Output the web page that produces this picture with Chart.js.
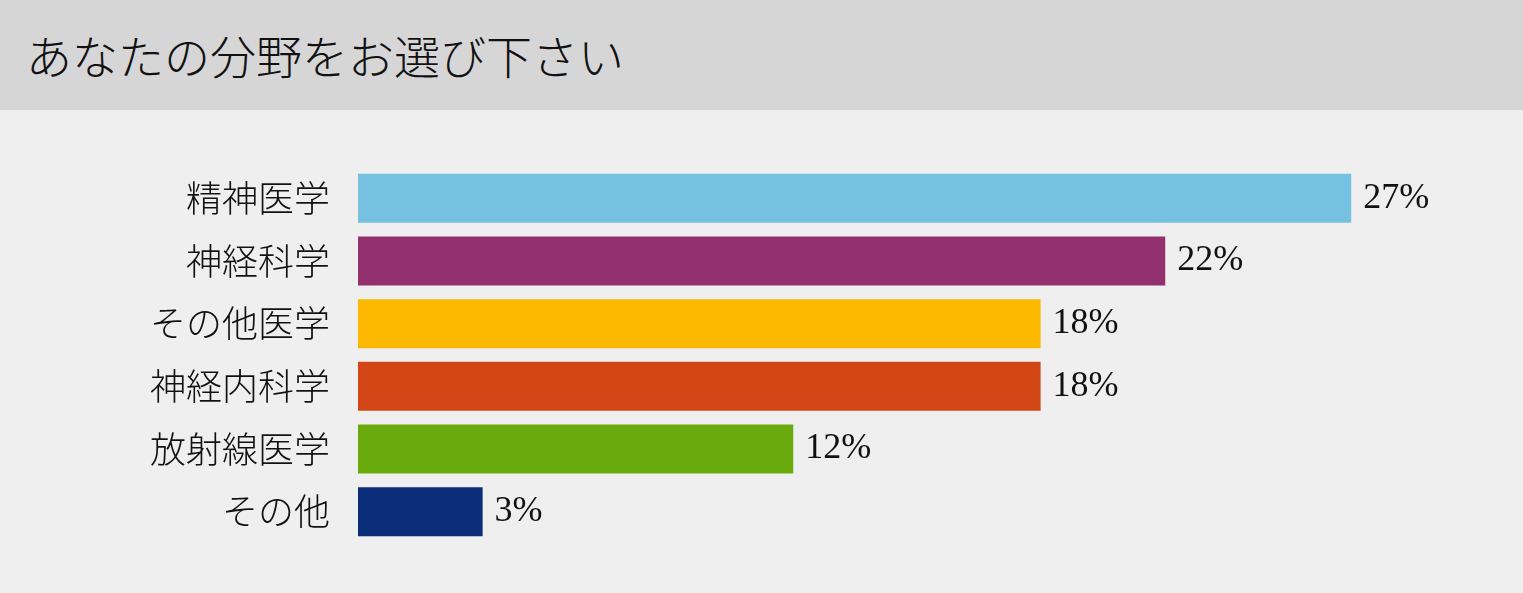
<!DOCTYPE html>
<html>
<head>
<meta charset="utf-8">
<script src="https://cdn.jsdelivr.net/npm/chart.js@4"></script>
<style>
  html, body { margin: 0; padding: 0; }
  body { width: 1523px; height: 593px; background: #efefef; overflow: hidden; }
  #head {
    height: 110px;
    background: #d6d6d6;
    font-family: "Noto Sans CJK JP", sans-serif;
    font-weight: 300;
    font-size: 46px;
    line-height: 108px;
    padding-left: 26px;
    color: #111;
  }
  #wrap { width: 1523px; height: 483px; }
</style>
</head>
<body>
<div id="head">あなたの分野をお選び下さい</div>
<div id="wrap"><canvas id="myChart"></canvas></div>
<script>
const fields = ["精神医学", "神経科学", "その他医学", "神経内科学", "放射線医学", "その他"];
const shares = [26.7, 21.7, 18.35, 18.35, 11.7, 3.35];
const shareLabels = ["27%", "22%", "18%", "18%", "12%", "3%"];
const barColors = ["#76c0e0", "#93316f", "#fdb900", "#d34616", "#69aa0c", "#0c2e7a"];

const valueLabels = {
  id: "valueLabels",
  afterDatasetsDraw(chart) {
    const c = chart.ctx;
    const meta = chart.getDatasetMeta(0);
    c.save();
    c.font = '36px "Liberation Serif", "Noto Sans CJK JP", serif';
    c.fillStyle = "#111";
    c.textBaseline = "middle";
    c.textAlign = "left";
    meta.data.forEach((bar, i) => {
      c.fillText(shareLabels[i], bar.x + 12, bar.y);
    });
    c.restore();
  },
};

const ctx = document.getElementById("myChart").getContext("2d");
const myChart = new Chart(ctx, {
  type: "bar",
  data: {
    labels: fields,
    datasets: [
      {
        data: shares,
        backgroundColor: barColors,
        borderWidth: 0,
        categoryPercentage: 1,
        barPercentage: 0.783,
      },
    ],
  },
  options: {
    indexAxis: "y",
    responsive: true,
    maintainAspectRatio: false,
    animation: false,
    layout: { padding: { top: 57, bottom: 50, left: 0, right: 49 } },
    plugins: {
      legend: { display: false },
      tooltip: { enabled: false },
    },
    scales: {
      x: { display: false, min: 0, max: 30 },
      y: {
        grid: { display: false, drawTicks: false },
        border: { display: false },
        ticks: {
          padding: 28,
          color: "#111",
          font: { family: '"Noto Sans CJK JP", sans-serif', size: 36, weight: 300 },
        },
        afterFit(scale) { scale.width = 358; },
      },
    },
  },
  plugins: [valueLabels],
});
</script>
</body>
</html>
